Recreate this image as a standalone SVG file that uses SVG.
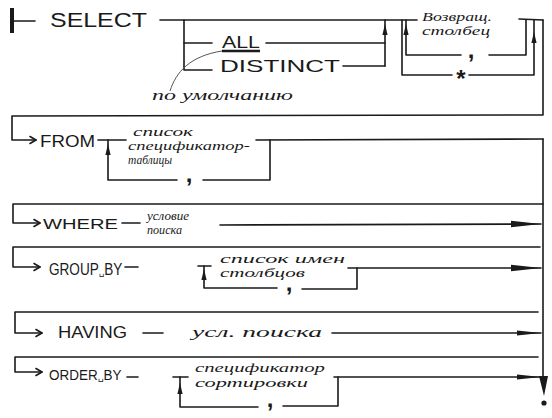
<svg xmlns="http://www.w3.org/2000/svg" width="552" height="418" viewBox="0 0 552 418">
<style>
.c{fill:none;stroke:#1a1a1a;stroke-width:1.6;stroke-linecap:round;stroke-linejoin:round}
.kw{font-family:"Liberation Sans","DejaVu Sans",sans-serif;fill:#1a1a1a}
.sp{font-family:"DejaVu Sans",sans-serif;font-size:10px}
.hw{font-family:"Liberation Serif","DejaVu Serif",serif;font-style:italic;fill:#1a1a1a;font-size:14px}
.h2{font-family:"Liberation Serif","DejaVu Serif",serif;font-style:italic;fill:#1a1a1a;font-size:12px}
.cm{font-family:"Liberation Sans","DejaVu Sans",sans-serif;font-weight:bold;fill:#1a1a1a;font-size:24px;text-anchor:middle}
.ah{fill:#1a1a1a}
</style>
<defs>
<path id="ua" class="ah" d="M0,-6 L2.6,5 L-2.6,5 Z"/>
<path id="ra" class="ah" d="M-30,-3.3 L0,0 L-30,3.3 Z"/>
<path id="rs" class="ah" d="M-24,-2.6 L0,0 L-24,2.6 Z"/>
<path id="ea" class="c" d="M-6,-3.5 L0,0 L-6,3.5"/>
</defs>
<rect x="0" y="0" width="552" height="418" fill="#ffffff"/>
<g id="connectors">
<rect x="10" y="8" width="4" height="25" fill="#1a1a1a"/>
<line class="c" x1="14" y1="21" x2="35" y2="21"/>
<line class="c" x1="160" y1="20" x2="417" y2="20"/>
<polyline class="c" points="184,20 184,70 212,70"/>
<line class="c" x1="184" y1="43" x2="212" y2="43"/>
<line class="c" x1="266" y1="43" x2="385" y2="43"/>
<line class="c" x1="343" y1="66" x2="385" y2="66"/>
<line class="c" x1="385" y1="66" x2="385" y2="20"/>
<use href="#ua" x="385" y="30"/>
<path d="M170,91 C176,72 190,56 222,51" fill="none" stroke="#555" stroke-width="1"/>
<polyline class="c" points="402,20 402,75 452,75"/>
<polyline class="c" points="469,75 534,75 534,20"/>
<use href="#ua" x="534" y="38"/>
<polyline class="c" points="526,20 526,55 489,55"/>
<polyline class="c" points="461,55 406,55 406,20"/>
<use href="#ua" x="406" y="30"/>
<line class="c" x1="519" y1="19" x2="543" y2="20"/>
<polyline class="c" points="543,20 543,115 12,116 12,140 36,140"/>
<use href="#ea" x="36" y="140"/>
<line class="c" x1="98" y1="140" x2="126" y2="140"/>
<polyline class="c" points="108,140 108,180 177,180"/>
<use href="#ua" x="108" y="150"/>
<polyline class="c" points="203,180 270,180 270,140"/>
<line class="c" x1="256" y1="140" x2="543" y2="139"/>
<line class="c" x1="543" y1="139" x2="543" y2="377"/>
<polyline class="c" points="543,204 13,204 13,223 40,223"/>
<use href="#ea" x="40" y="223"/>
<line class="c" x1="122" y1="223" x2="140" y2="223"/>
<line class="c" x1="220" y1="225" x2="541" y2="224"/>
<use href="#ra" x="541" y="224"/>
<polyline class="c" points="540,247 13,247 13,267 40,267"/>
<use href="#ea" x="40" y="267"/>
<line class="c" x1="125" y1="267" x2="138" y2="267"/>
<line class="c" x1="198" y1="266" x2="211" y2="266"/>
<polyline class="c" points="204,266 204,288 277,288"/>
<use href="#ua" x="204" y="275"/>
<polyline class="c" points="302,289 357,289 357,268"/>
<line class="c" x1="348" y1="268" x2="541" y2="268"/>
<use href="#ra" x="541" y="268"/>
<polyline class="c" points="538,312 15,312 15,333 42,333"/>
<use href="#ea" x="42" y="333"/>
<line class="c" x1="143" y1="333" x2="163" y2="333"/>
<line class="c" x1="332" y1="333" x2="541" y2="333"/>
<use href="#rs" x="541" y="333"/>
<polyline class="c" points="538,357 15,357 15,372 42,372"/>
<use href="#ea" x="42" y="372"/>
<line class="c" x1="127" y1="377" x2="138" y2="377"/>
<line class="c" x1="173" y1="377" x2="188" y2="377"/>
<polyline class="c" points="180,377 180,407 258,407"/>
<use href="#ua" x="180" y="389"/>
<polyline class="c" points="283,406 338,406 338,377"/>
<line class="c" x1="334" y1="377" x2="541" y2="377"/>
<use href="#rs" x="541" y="377"/>
<polygon class="ah" points="539,376 548,376 544,396"/>
<circle class="ah" cx="544" cy="403" r="2.6"/>
</g>
<g id="select"><text class="kw" x="50" y="27" font-size="20" textLength="97" lengthAdjust="spacingAndGlyphs">SELECT</text></g>
<g id="all"><text class="kw" x="222" y="48" font-size="17" textLength="38" lengthAdjust="spacingAndGlyphs">ALL</text><line x1="222" y1="51" x2="260" y2="51" stroke="#1a1a1a" stroke-width="2.5"/></g>
<g id="distinct"><text class="kw" x="220" y="72" font-size="17" textLength="120" lengthAdjust="spacingAndGlyphs">DISTINCT</text></g>
<g id="default-note"><text class="hw" x="152" y="100" textLength="141" lengthAdjust="spacingAndGlyphs">по умолчанию</text></g>
<g id="column"><text class="h2" x="422" y="21" textLength="70" lengthAdjust="spacingAndGlyphs">Возвращ.</text><text class="h2" x="422" y="35" textLength="68" lengthAdjust="spacingAndGlyphs">столбец</text></g>
<g id="col-comma"><text class="cm" x="471" y="58">,</text></g>
<g id="star"><text class="cm" x="461" y="87" font-size="22">*</text></g>
<g id="from"><text class="kw" x="40" y="147" font-size="16" textLength="55" lengthAdjust="spacingAndGlyphs">FROM</text></g>
<g id="table-list"><text class="h2" x="133" y="136" textLength="60" lengthAdjust="spacingAndGlyphs">список</text><text class="h2" x="128" y="150" textLength="122" lengthAdjust="spacingAndGlyphs">спецификатор-</text><text class="h2" x="128" y="164" textLength="44" lengthAdjust="spacingAndGlyphs">таблицы</text></g>
<g id="from-comma"><text class="cm" x="189" y="182">,</text></g>
<g id="where"><text class="kw" x="43" y="229" font-size="15" textLength="75" lengthAdjust="spacingAndGlyphs">WHERE</text></g>
<g id="where-cond"><text class="h2" x="147" y="220" textLength="42" lengthAdjust="spacingAndGlyphs">условие</text><text class="h2" x="147" y="234" textLength="35" lengthAdjust="spacingAndGlyphs">поиска</text></g>
<g id="groupby"><text class="kw" font-size="16" transform="translate(49,275) scale(0.85 1)">GROUP<tspan class="sp">␣</tspan>BY</text></g>
<g id="col-names"><text class="h2" x="220" y="263" textLength="125" lengthAdjust="spacingAndGlyphs">список имен</text><text class="h2" x="220" y="277" textLength="85" lengthAdjust="spacingAndGlyphs">столбцов</text></g>
<g id="group-comma"><text class="cm" x="289" y="291">,</text></g>
<g id="having"><text class="kw" x="58" y="338" font-size="16" textLength="69" lengthAdjust="spacingAndGlyphs">HAVING</text></g>
<g id="having-cond"><text class="hw" x="192" y="337" textLength="130" lengthAdjust="spacingAndGlyphs">усл. поиска</text></g>
<g id="orderby"><text class="kw" font-size="15" transform="translate(49,380) scale(0.9 1)">ORDER<tspan class="sp">␣</tspan>BY</text></g>
<g id="sort-spec"><text class="h2" x="195" y="372" textLength="130" lengthAdjust="spacingAndGlyphs">спецификатор</text><text class="h2" x="195" y="387" textLength="113" lengthAdjust="spacingAndGlyphs">сортировки</text></g>
<g id="order-comma"><text class="cm" x="270" y="407">,</text></g>
</svg>
